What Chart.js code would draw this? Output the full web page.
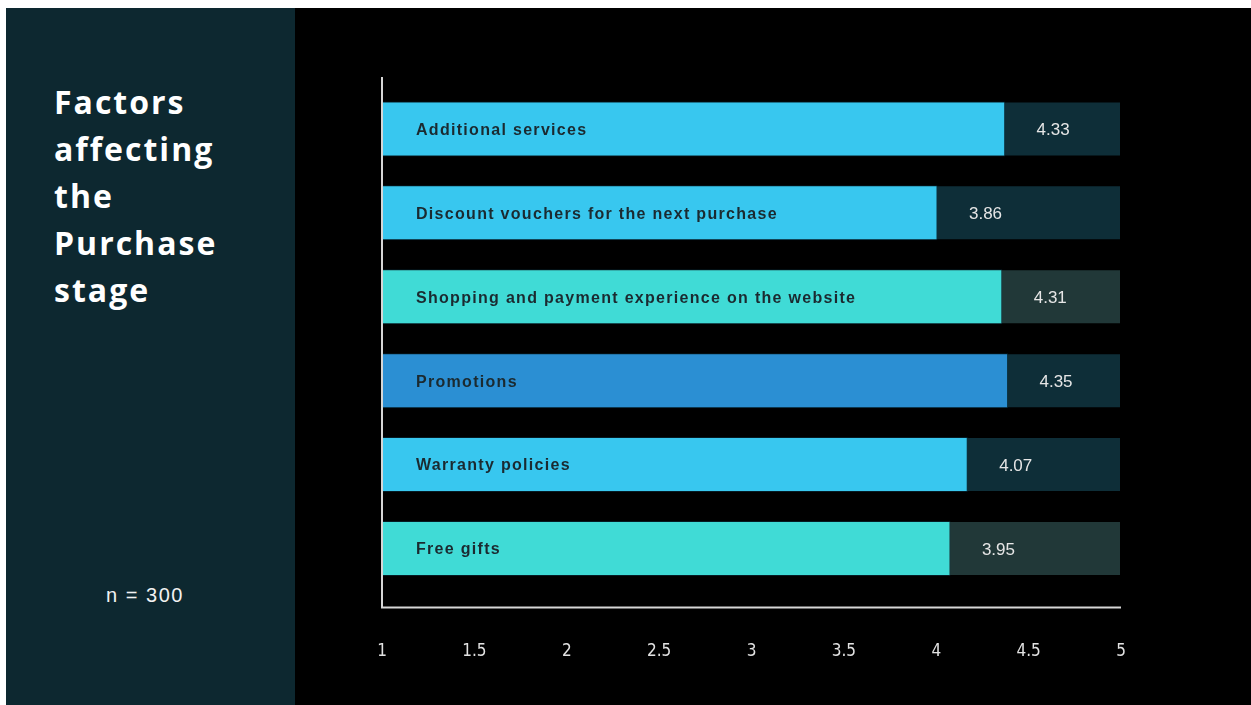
<!DOCTYPE html>
<html>
<head>
<meta charset="utf-8">
<title>Factors affecting the Purchase stage</title>
<script src="https://cdn.jsdelivr.net/npm/chart.js@4.4.1/dist/chart.umd.min.js"></script>
<style>
  html, body { margin: 0; padding: 0; background: #fff; }
  body { width: 1251px; height: 705px; position: relative; overflow: hidden; }
  #side {
    position: absolute; left: 6px; top: 8px; width: 289px; height: 697px;
    background: #0d2830;
  }
  #title {
    position: absolute; left: 48px; top: 70px; margin: 0;
    color: #fff; font: 700 32px 'Open Sans', sans-serif;
    line-height: 47px; letter-spacing: 2px;
  }
  #sample {
    position: absolute; left: 0; top: 575px; width: 278px;
    text-align: center; color: #f2f2f2;
    font: 20px 'Liberation Sans', Arial, sans-serif; line-height: 24px; letter-spacing: 1.5px;
  }
  #plot {
    position: absolute; left: 295px; top: 8px; width: 956px; height: 697px;
    background: #000;
  }
</style>
</head>
<body>
<div id="side">
  <h1 id="title">Factors<br>affecting<br>the<br>Purchase<br>stage</h1>
  <div id="sample">n = 300</div>
</div>
<div id="plot">
  <canvas id="chart" width="956" height="697"></canvas>
</div>

<script>
// Mean scores per factor (1-5 scale)
const factors = [
  'Additional services',
  'Discount vouchers for the next purchase',
  'Shopping and payment experience on the website',
  'Promotions',
  'Warranty policies',
  'Free gifts'
];
const scores = [4.33, 3.86, 4.31, 4.35, 4.07, 3.95];

// The bars are measured from zero; the track runs to the end of the plot
const TRACK_MAX = 5.135;
const trackValues = [TRACK_MAX, TRACK_MAX, TRACK_MAX, TRACK_MAX, TRACK_MAX, TRACK_MAX];

// Scale printed under the chart
const TICK_MIN = 1;
const TICK_MAX = 5;
const TICK_STEP = 0.5;

const barColors = ['#38c7ef', '#38c7ef', '#40dbd6', '#2b8fd3', '#38c7ef', '#40dbd6'];
const trackColors = ['#0e2e38', '#0e2e38', '#213838', '#0e2e38', '#0e2e38', '#213838'];

// Category names sit inside the bars, scores just past the bar end
const barLabels = {
  id: 'barLabels',
  afterDatasetsDraw(chart) {
    const { ctx, chartArea } = chart;
    const meta = chart.getDatasetMeta(1);
    ctx.save();
    ctx.textBaseline = 'middle';
    meta.data.forEach((bar, i) => {
      const y = bar.y + 1.5;
      ctx.font = 'bold 16px "Liberation Sans", Arial, sans-serif';
      ctx.letterSpacing = '1.3px';
      ctx.fillStyle = '#1b2a30';
      ctx.textAlign = 'left';
      ctx.fillText(factors[i], chartArea.left + 34, y);

      ctx.font = '17px "Liberation Sans", Arial, sans-serif';
      ctx.letterSpacing = '0px';
      ctx.fillStyle = '#e6e6e6';
      ctx.textAlign = 'center';
      ctx.fillText(scores[i].toFixed(2), bar.x + 48, y);
    });
    ctx.restore();
  }
};

// L-shaped axis frame, a little taller than the bar band
const axisFrame = {
  id: 'axisFrame',
  afterDraw(chart) {
    const { ctx, chartArea } = chart;
    const top = chartArea.top - 10;
    const bottom = chartArea.bottom + 17;
    ctx.save();
    ctx.strokeStyle = '#d6d6d6';
    ctx.lineWidth = 2;
    ctx.beginPath();
    ctx.moveTo(chartArea.left, top);
    ctx.lineTo(chartArea.left, bottom);
    ctx.lineTo(chartArea.right, bottom);
    ctx.stroke();
    ctx.restore();
  }
};

const chart = new Chart(document.getElementById('chart'), {
  type: 'bar',
  data: {
    labels: factors,
    datasets: [
      {
        label: 'Track',
        data: trackValues,
        backgroundColor: trackColors,
        borderColor: 'rgba(0,0,0,0.35)',
        borderWidth: 1,
        borderSkipped: false,
        grouped: false,
        order: 2
      },
      {
        label: 'Mean score',
        data: scores,
        backgroundColor: barColors,
        borderColor: 'rgba(10,60,80,0.45)',
        borderWidth: 1,
        borderSkipped: false,
        grouped: false,
        order: 1
      }
    ]
  },
  options: {
    indexAxis: 'y',
    responsive: false,
    animation: false,
    categoryPercentage: 1,
    barPercentage: 0.656,
    layout: { padding: { left: 87, right: 130, top: 79, bottom: 34.6 } },
    plugins: {
      legend: { display: false },
      tooltip: { enabled: false }
    },
    scales: {
      x: {
        display: false,
        min: 0,
        max: TRACK_MAX
      },
      xTicks: {
        axis: 'x',
        type: 'linear',
        position: 'bottom',
        min: TICK_MIN,
        max: TICK_MAX,
        grid: { display: false, drawTicks: false },
        border: { display: false },
        ticks: {
          stepSize: TICK_STEP,
          padding: 51,
          color: '#e2e2e2',
          font: { family: '"Liberation Sans Narrow", "DejaVu Sans Condensed", sans-serif', size: 17 },
          maxRotation: 0,
          autoSkip: false,
          callback: v => String(v)
        },
        afterFit(scale) { scale.height = 80; }
      },
      y: {
        display: false
      }
    }
  },
  plugins: [barLabels, axisFrame]
});
</script>
</body>
</html>
